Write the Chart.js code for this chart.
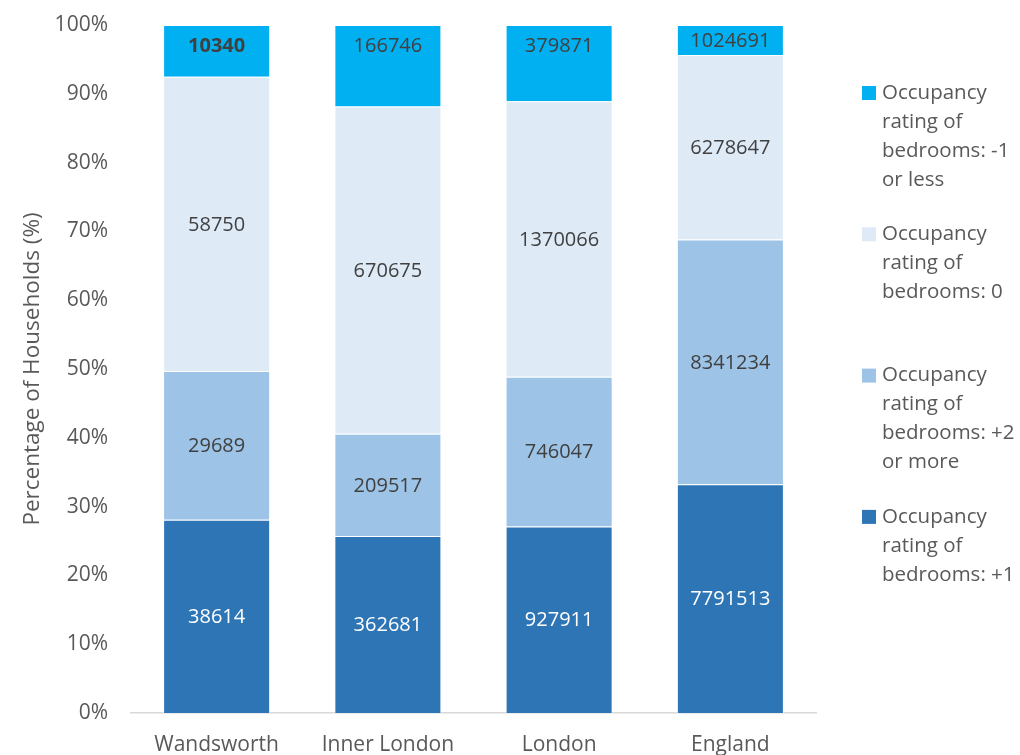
<!DOCTYPE html>
<html>
<head>
    <title>Occupancy rating of bedrooms</title>
    <script src="https://cdn.jsdelivr.net/npm/chart.js"></script>
    <style>
        body { margin: 0; background: #fff; }
    </style>
</head>
<body>
    <canvas id="myChart" width="1020" height="755"></canvas>
    <script>
    // household counts per area
    const categories = ['Wandsworth', 'Inner London', 'London', 'England'];
    const ratingPlus1 = [38614, 362681, 927911, 7791513];
    const ratingPlus2 = [29689, 209517, 746047, 8341234];
    const rating0 = [58750, 670675, 1370066, 6278647];
    const ratingMinus1 = [10340, 166746, 379871, 1024691];
    const yTicks = [0, 10, 20, 30, 40, 50, 60, 70, 80, 90, 100];

    const FONT = "'Open Sans', sans-serif";
    const TEXT = '#595959';

    const totals = categories.map((c, i) => ratingPlus1[i] + ratingPlus2[i] + rating0[i] + ratingMinus1[i]);
    const pct = arr => arr.map((v, i) => v / totals[i] * 100);

    const series = [
        { label: ['Occupancy', 'rating of', 'bedrooms: +1'], counts: ratingPlus1, color: '#2E75B6', labelColor: '#ffffff' },
        { label: ['Occupancy', 'rating of', 'bedrooms: +2', 'or more'], counts: ratingPlus2, color: '#9DC3E6', labelColor: '#404040' },
        { label: ['Occupancy', 'rating of', 'bedrooms: 0'], counts: rating0, color: '#DEEBF7', labelColor: '#404040' },
        { label: ['Occupancy', 'rating of', 'bedrooms: -1', 'or less'], counts: ratingMinus1, color: '#00B0F0', labelColor: '#404040' }
    ];

    // labels inside each segment, top series sits near the top of the bar
    const segmentLabels = {
        id: 'segmentLabels',
        afterDatasetsDraw(chart) {
            const ctx = chart.ctx;
            ctx.save();
            ctx.textAlign = 'center';
            ctx.textBaseline = 'middle';
            chart.data.datasets.forEach((ds, di) => {
                const meta = chart.getDatasetMeta(di);
                meta.data.forEach((bar, i) => {
                    let y = (bar.y + bar.base) / 2;
                    if (di === chart.data.datasets.length - 1) {
                        y = Math.min(bar.y + 20, y);
                    }
                    const bold = di === 3 && i === 0;
                    ctx.font = (bold ? 'bold ' : '') + '20px ' + FONT;
                    ctx.fillStyle = ds.labelColor;
                    ctx.fillText(String(ds.counts[i]), bar.x, y + 1);
                });
            });
            ctx.restore();
        }
    };

    // legend on the right, entries spread over the plot height
    const sideLegend = {
        id: 'sideLegend',
        afterDraw(chart) {
            const ctx = chart.ctx;
            const items = chart.data.datasets.slice().reverse();
            const x = chart.chartArea.right + 46;
            const startY = 93;
            const step = 141.3;
            const lineH = 29;
            ctx.save();
            ctx.font = '20.5px ' + FONT;
            ctx.textBaseline = 'middle';
            ctx.textAlign = 'left';
            items.forEach((ds, k) => {
                const y0 = startY + k * step;
                ctx.fillStyle = ds.backgroundColor;
                ctx.fillRect(x, y0 - 7, 14, 14);
                ctx.fillStyle = TEXT;
                ds.label.forEach((line, j) => {
                    ctx.fillText(line, x + 20, y0 + j * lineH);
                });
            });
            ctx.restore();
        }
    };

    const ctx = document.getElementById('myChart').getContext('2d');
    const myChart = new Chart(ctx, {
        type: 'bar',
        data: {
            labels: categories,
            datasets: series.map(s => ({
                label: s.label,
                data: pct(s.counts),
                counts: s.counts,
                labelColor: s.labelColor,
                backgroundColor: s.color,
                borderColor: 'rgba(255,255,255,0.55)',
                borderWidth: 1,
                categoryPercentage: 1,
                barPercentage: 0.625
            }))
        },
        options: {
            responsive: false,
            animation: false,
            layout: { padding: { top: 25, right: 204, left: 0, bottom: 0 } },
            plugins: {
                legend: { display: false },
                tooltip: { enabled: false }
            },
            scales: {
                x: {
                    stacked: true,
                    grid: { display: false, drawTicks: false },
                    border: { display: true, color: '#D9D9D9', width: 1.5 },
                    ticks: { color: TEXT, font: { family: FONT, size: 21 }, padding: 19 },
                    afterFit(scale) { scale.height = 42; scale.paddingLeft = 0; scale.paddingRight = 0; }
                },
                y: {
                    stacked: true,
                    min: 0,
                    max: 100,
                    afterBuildTicks(scale) { scale.ticks = yTicks.map(v => ({ value: v })); },
                    grid: { display: false, drawTicks: false },
                    border: { display: false },
                    ticks: {
                        color: TEXT,
                        font: { family: FONT, size: 21 },
                        padding: 23,
                        callback: v => v + '%'
                    },
                    title: {
                        display: true,
                        text: 'Percentage of Households (%)',
                        color: TEXT,
                        font: { family: FONT, size: 22.5 },
                        padding: { top: 19, bottom: 0 }
                    },
                    afterFit(scale) { scale.width = 131; scale.paddingTop = 0; scale.paddingBottom = 0; }
                }
            }
        },
        plugins: [segmentLabels, sideLegend]
    });
    </script>
</body>
</html>
